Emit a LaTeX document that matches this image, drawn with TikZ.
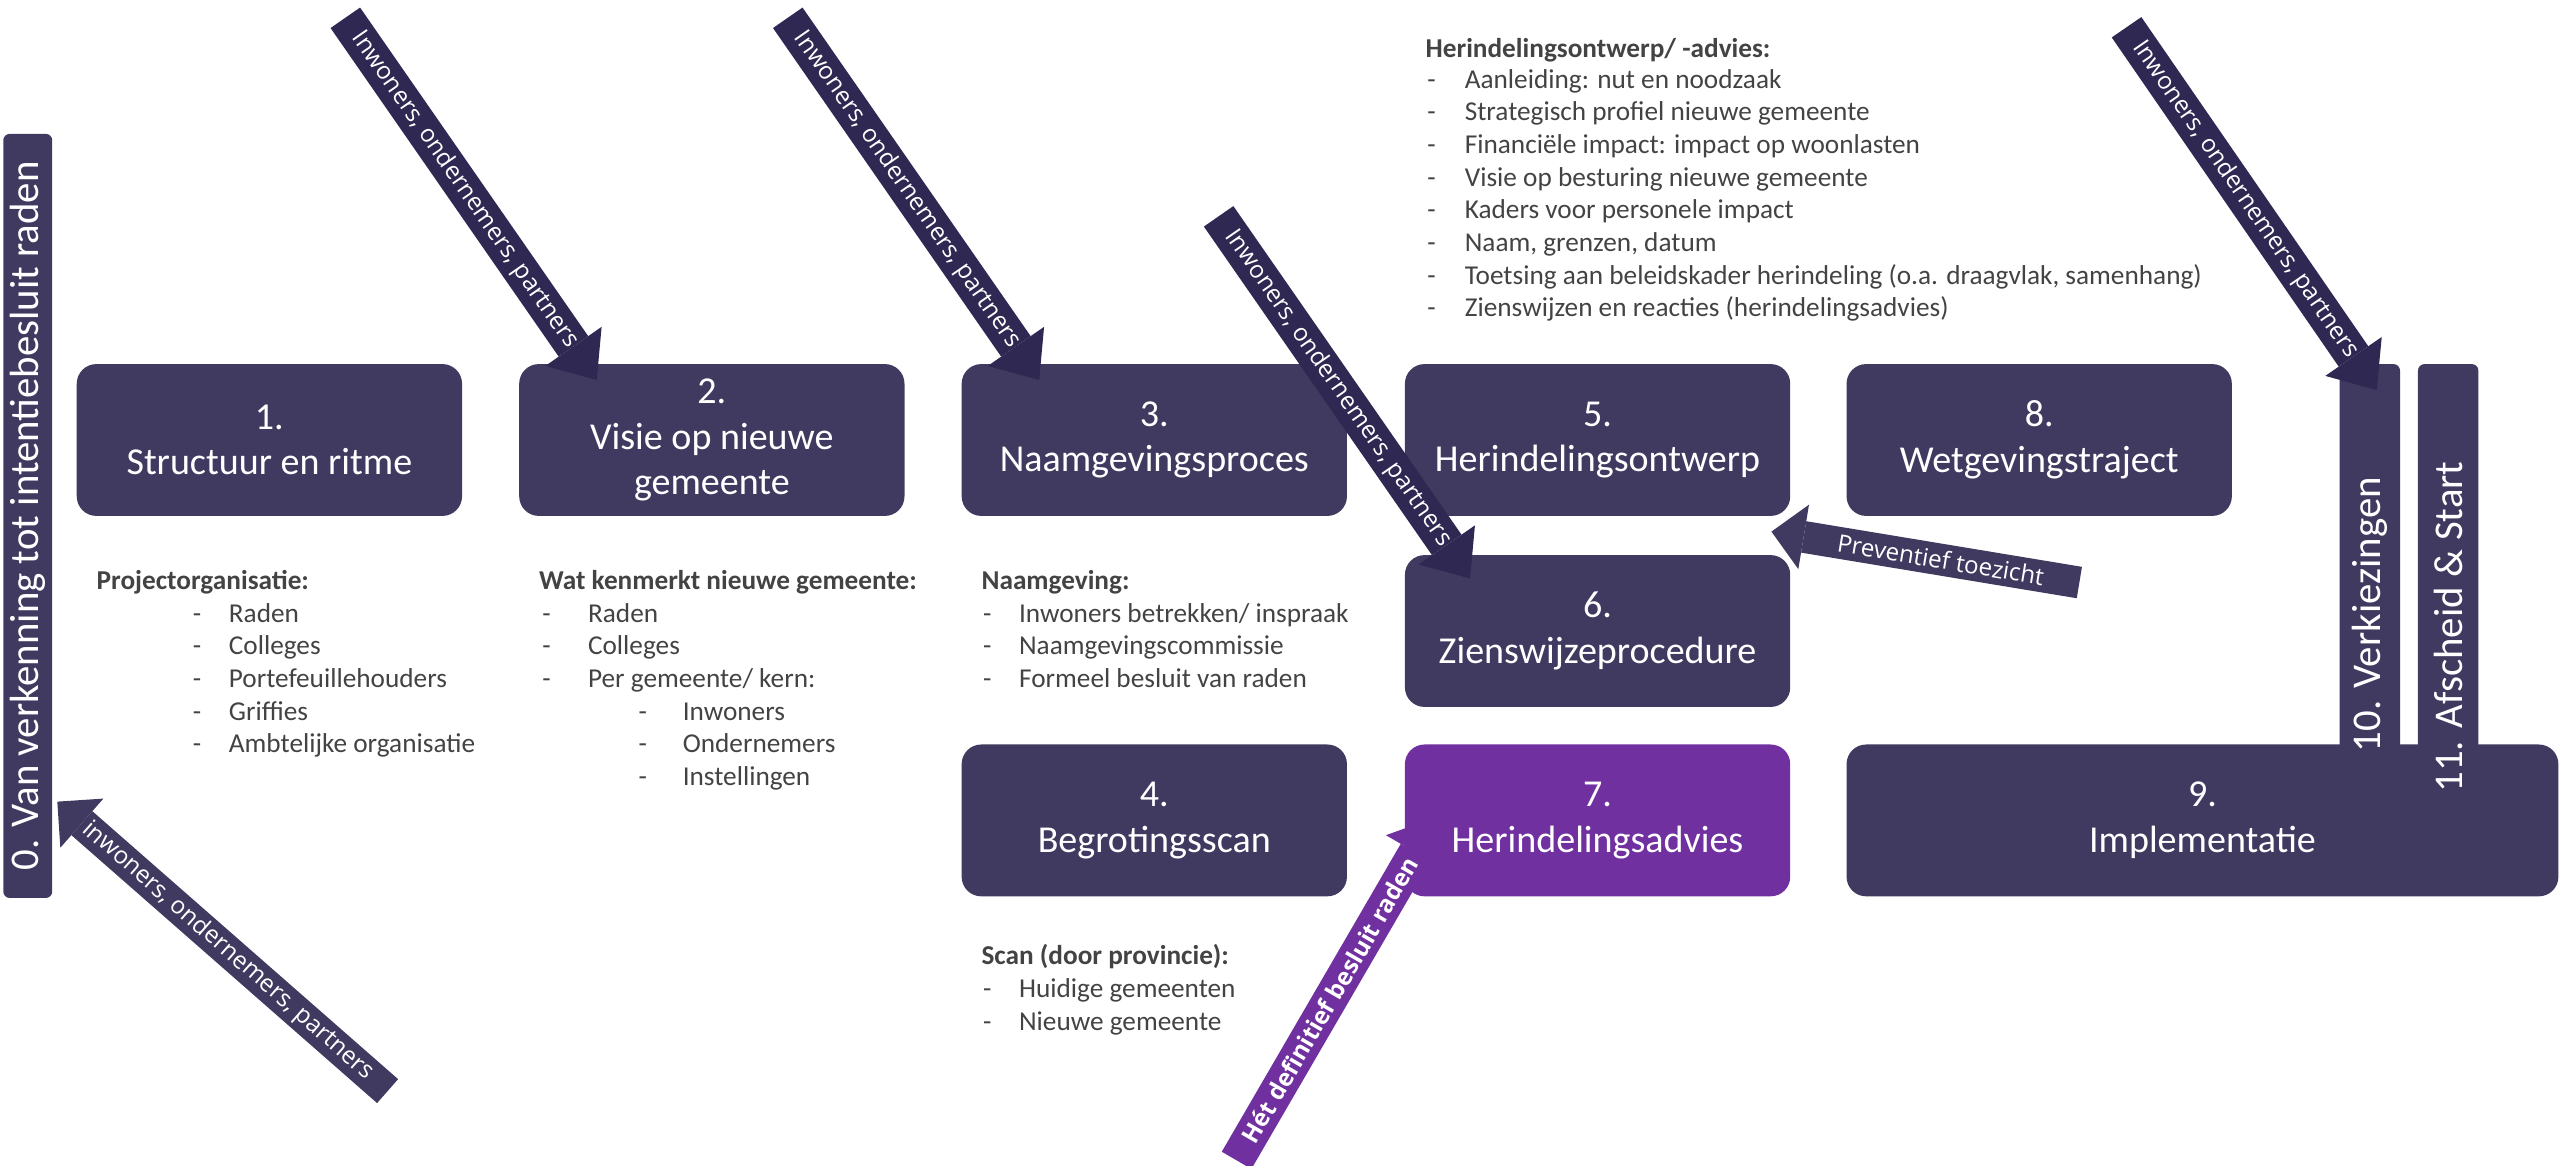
\documentclass[tikz,border=0pt]{standalone}
\usepackage{fontspec}
\setmainfont{Carlito}
\newfontfamily\pijlfont{Open Sans}
\usetikzlibrary{arrows.meta}

\definecolor{blokdonker}{RGB}{64,58,96}
\definecolor{pijldonker}{RGB}{46,40,82}
\definecolor{advies}{RGB}{112,48,160}
\definecolor{tekstgrijs}{RGB}{67,67,67}

\tikzset{
  stap/.style={fill=blokdonker,text=white,rounded corners=12pt,minimum width=236pt,minimum height=93pt,
    align=center,inner sep=0pt,font=\fontsize{23.3}{28}\selectfont},
  balk/.style={fill=blokdonker,text=white,rounded corners=4pt,inner sep=0pt,rotate=90,
    font=\fontsize{25}{30}\selectfont},
  kop/.style={anchor=base west,inner sep=0pt,text=tekstgrijs,font=\fontsize{16.7}{20}\selectfont\bfseries},
  punt/.style={anchor=base west,inner sep=0pt,text=tekstgrijs,font=\fontsize{16.7}{20}\selectfont},
  pijl/.style={line width=22pt,pijldonker,-{Triangle[width=42pt,length=25pt,line width=0pt]}},
  pijllicht/.style={line width=19.5pt,blokdonker,-{Triangle[width=40pt,length=20pt,line width=0pt]}},
  pijltekst/.style={sloped,text=white,inner sep=0pt,font=\pijlfont\fontsize{14.8}{18}\selectfont},
}

\begin{document}
\begin{tikzpicture}[x=1pt,y=-1pt]
        \clip (0,0) rectangle (1568,714);

        %%%%%%% Blokken %%%%%%%%
        \node[balk,minimum width=468pt,minimum height=30pt] (b0) at (17,316) {0. Van verkenning tot intentiebesluit raden};
        \node[stap] (b1) at (165,269.5) {1.\\Structuur en ritme};
        \node[stap] (b2) at (436,269.5) {2.\\Visie op nieuwe\\gemeente};
        \node[stap] (b3) at (707,269.5) {3.\\Naamgevingsproces};
        \node[stap] (b5) at (978.5,269.5) {5.\\Herindelingsontwerp};
        \node[stap] (b8) at (1249,269.5) {8.\\Wetgevingstraject};
        \node[stap] (b6) at (978.5,386.5) {6.\\Zienswijzeprocedure};
        \node[stap] (b4) at (707,502.5) {4.\\Begrotingsscan};
        \node[stap,fill=advies] (b7) at (978.5,502.5) {7.\\Herindelingsadvies};
        \node[stap,minimum width=436pt] (b9) at (1349,502.5) {9.\\Implementatie};
        \node[balk,minimum width=307pt,minimum height=37pt] (b10) at (1451.5,376.5) {10. Verkiezingen};
        \node[balk,minimum width=322pt,minimum height=37pt] (b11) at (1499.5,384) {11. Afscheid \& Start};

        %%%%%%% Tekst 1 %%%%%%%%
        \node[kop] (k1) at (59,361) {Projectorganisatie:};
        \foreach \t [count=\i] in {Raden,Colleges,Portefeuillehouders,Griffies,Ambtelijke organisatie} {
            \node[punt] (d1\i) at (118,361+20*\i) {-};
            \node[punt] (p1\i) at (140,361+20*\i) {\t};
        }

        %%%%%%% Tekst 2 %%%%%%%%
        \node[kop] (k2) at (330,361) {Wat kenmerkt nieuwe gemeente:};
        \foreach \t [count=\i] in {Raden,Colleges,Per gemeente/ kern:} {
            \node[punt] (d2\i) at (332,361+20*\i) {-};
            \node[punt] (p2\i) at (360,361+20*\i) {\t};
        }
        \foreach \t [count=\i] in {Inwoners,Ondernemers,Instellingen} {
            \node[punt] (dd2\i) at (391,421+20*\i) {-};
            \node[punt] (pp2\i) at (418,421+20*\i) {\t};
        }

        %%%%%%% Tekst 3 %%%%%%%%
        \node[kop] (k3) at (601,361) {Naamgeving:};
        \foreach \t [count=\i] in {Inwoners betrekken/ inspraak,Naamgevingscommissie,Formeel besluit van raden} {
            \node[punt] (d3\i) at (602,361+20*\i) {-};
            \node[punt] (p3\i) at (624,361+20*\i) {\t};
        }

        %%%%%%% Tekst 4 %%%%%%%%
        \node[kop] (k4) at (601,591) {Scan (door provincie):};
        \foreach \t [count=\i] in {Huidige gemeenten,Nieuwe gemeente} {
            \node[punt] (d4\i) at (602,591+20*\i) {-};
            \node[punt] (p4\i) at (624,591+20*\i) {\t};
        }

        %%%%%%% Tekst 5 %%%%%%%%
        \node[kop] (k5) at (873,35) {Herindelingsontwerp/ -advies:};
        \foreach \t [count=\i] in {Aanleiding: nut en noodzaak,Strategisch profiel nieuwe gemeente,
            Financiële impact: impact op woonlasten,Visie op besturing nieuwe gemeente,
            Kaders voor personele impact,{Naam, grenzen, datum},
            {Toetsing aan beleidskader herindeling (o.a. draagvlak, samenhang)},
            Zienswijzen en reacties (herindelingsadvies)} {
            \node[punt] (d5\i) at (874,34+20*\i) {-};
            \node[punt] (p5\i) at (897,34+20*\i) {\t};
        }

        %%%%%%% Pijlen %%%%%%%%
        \coordinate (s1) at (211.5,10.9);  \coordinate (e1) at (365.5,232.7);
        \coordinate (s2) at (482.5,10.9);  \coordinate (e2) at (636.5,232.7);
        \coordinate (s3) at (746.4,132.5); \coordinate (e3) at (900.4,354.3);
        \coordinate (s4) at (1302.5,16.7); \coordinate (e4) at (1455.7,238.9);
        \coordinate (s5) at (237.4,668.3); \coordinate (e5) at (35.1,491);
        \coordinate (s6) at (1273.6,356.8); \coordinate (e6) at (1085,325.6);
        \coordinate (s7) at (757.4,710.7); \coordinate (e7) at (879.6,500.5);

        \draw[pijl] (s1) -- (e1) node[pijltekst,pos=.475] (t1) {Inwoners, ondernemers, partners};
        \draw[pijl] (s2) -- (e2) node[pijltekst,pos=.475] (t2) {Inwoners, ondernemers, partners};
        \draw[pijl] (s3) -- (e3) node[pijltekst,pos=.475] (t3) {Inwoners, ondernemers, partners};
        \draw[pijl] (s4) -- (e4) node[pijltekst,pos=.475] (t4) {Inwoners, ondernemers, partners};
        \draw[pijllicht] (s5) -- (e5) node[pijltekst,pos=.484] (t5) {inwoners, ondernemers, partners};
        \draw[pijllicht] (s6) -- (e6) node[pijltekst,pos=.45] (t6) {Preventief toezicht};
        \draw[pijl,advies,line width=21pt] (s7) -- (e7) node[pijltekst,pos=.467,font=\pijlfont\bfseries\fontsize{14.8}{18}\selectfont] (t7) {Hét definitief besluit raden};
\end{tikzpicture}
\end{document}
